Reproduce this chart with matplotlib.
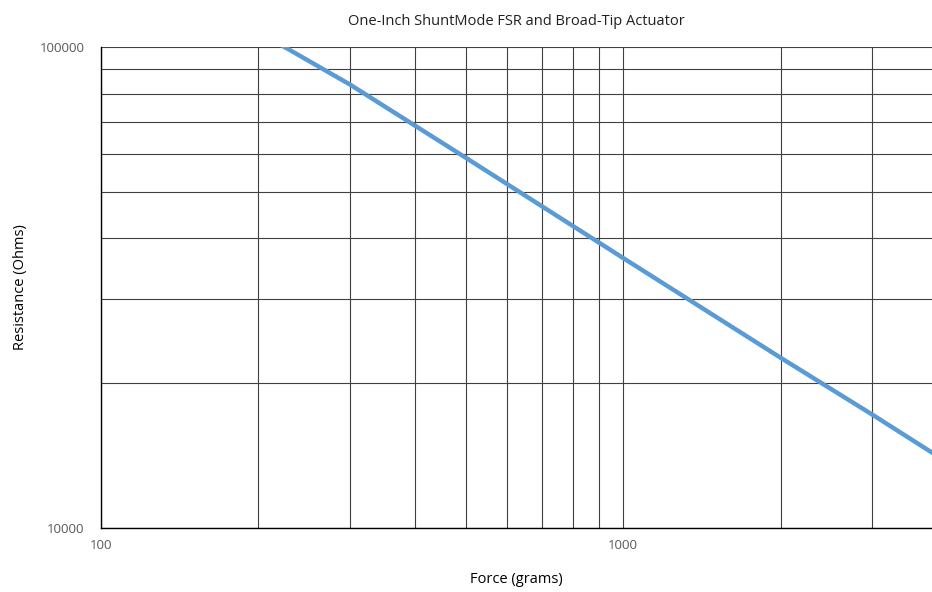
import matplotlib.pyplot as plt

force = [200, 300, 500, 1000, 2000, 3000, 4000]
resistance = [107500, 83500, 58800, 36400, 22600, 17200, 14100]

plt.rcParams['font.family'] = ['Open Sans', 'DejaVu Sans']

fig = plt.figure(figsize=(9.32, 5.92), dpi=100)
ax = fig.add_axes([101 / 932, 64 / 592, 1 - 101 / 932, 481 / 592])

ax.plot(force, resistance, color='#5B9BD5', linewidth=3.2, solid_capstyle='butt', zorder=3)
ax.set_xscale('log')
ax.set_yscale('log')
ax.set_xlim(100, 3900)
ax.set_ylim(10000, 100000)

ax.grid(True, which='both', color='#404040', linewidth=0.8)
ax.set_xticks([100, 1000])
ax.set_xticklabels(['100', '1000'])
ax.set_yticks([10000, 100000])
ax.set_yticklabels(['10000', '100000'])
ax.tick_params(which='both', length=0, labelsize=9.5, colors='#595959', pad=8)
ax.tick_params(axis='y', pad=12)
ax.xaxis.set_minor_formatter(plt.NullFormatter())
ax.yaxis.set_minor_formatter(plt.NullFormatter())

for s in ['top', 'right']:
    ax.spines[s].set_visible(False)
for s in ['left', 'bottom']:
    ax.spines[s].set_color('black')
    ax.spines[s].set_linewidth(1.0)

ax.set_title('One-Inch ShuntMode FSR and Broad-Tip Actuator', fontsize=10.5, color='#202020', pad=16)
ax.set_xlabel('Force (grams)', fontsize=10.5, color='black', labelpad=14)
ax.set_ylabel('Resistance (Ohms)', fontsize=10.5, color='black', labelpad=8)

fig.savefig('out.png', dpi=100)
